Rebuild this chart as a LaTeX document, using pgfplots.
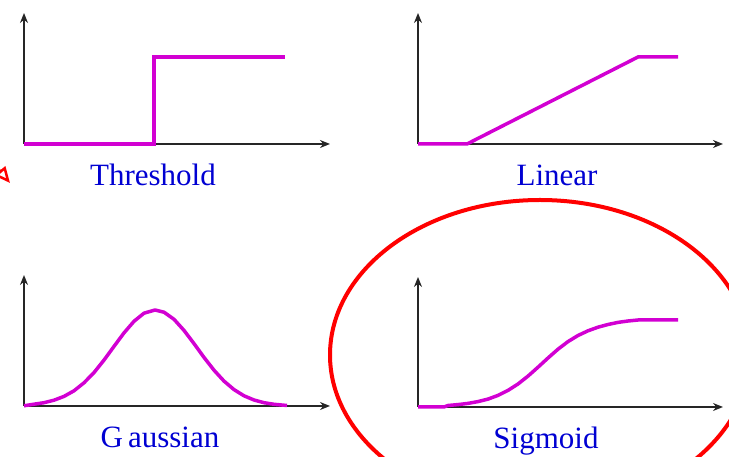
\documentclass[border=0pt]{standalone}
\usepackage{pgfplots}
\pgfplotsset{compat=1.18}
\usetikzlibrary{arrows.meta}
\usepackage{fontspec}
\setmainfont{Liberation Serif}
\definecolor{mag}{RGB}{210,0,210}
\definecolor{lblue}{RGB}{0,0,210}
\tikzset{
  lbl/.style={lblue, anchor=base, font=\fontsize{31}{36}\selectfont},
}
\pgfplotsset{
  panel/.style={
    x=1pt, y=1pt, xmin=0, ymin=0, xmax=306, ymax=131,
    anchor=south west, scale only axis,
    axis lines=left, enlargelimits=false, clip=false,
    xtick=\empty, ytick=\empty,
    axis line style={line width=1.8pt, black!85},
    every outer x axis line/.append style={-{Stealth[length=10pt,width=8pt]}},
    every outer y axis line/.append style={-{Stealth[length=10pt,width=8pt]}},
  },
  curve/.style={mag, line width=3.5pt, line join=miter, no marks},
}
\begin{document}
\begin{tikzpicture}[x=1pt,y=1pt]
\path[use as bounding box] (0,0) rectangle (729,457);
\clip (0,0) rectangle (729,457);
% Threshold
\begin{axis}[panel, at={(24pt,313pt)}]
\addplot[curve] coordinates {(0,0)(130,0)(130,87)(261,87)};
\node[lbl] at (axis cs:129,-42) {Threshold};
\end{axis}
% Linear
\begin{axis}[panel, at={(418pt,313pt)}, xmax=305]
\addplot[curve] coordinates {(0,0)(49,0)(220,87)(260,87)};
\node[lbl] at (axis cs:139,-42) {Linear};
\end{axis}
% Gaussian
\begin{axis}[panel, at={(24pt,51pt)}]
\addplot[curve, line join=round] coordinates {(0,0.2)(10,1.8)(20,3.3)(30,5.8)(40,9.6)(50,15.2)(60,23.2)(70,33.4)(80,45.9)(90,59.6)(100,73.1)(110,84.7)(120,92.8)(131,96)(140,93.8)(150,86.7)(160,75.6)(170,62.4)(180,48.6)(190,35.8)(200,24.9)(210,16.4)(220,10.2)(230,6.0)(240,3.3)(250,1.7)(263,0.5)};
\node[lbl] at (axis cs:136,-42) {G\hspace{5pt}aussian};
\end{axis}
% Sigmoid
\begin{axis}[panel, at={(418pt,50pt)}, xmax=305, ymax=130]
\addplot[curve, line join=round] coordinates {(0,0)(26,0)(30,1.5)(40,2.4)(50,3.6)(60,5.4)(70,7.9)(80,11.6)(90,16.6)(100,23)(110,30.9)(120,39.8)(130,49)(140,57.8)(150,65.4)(160,71.5)(170,76.2)(180,79.8)(190,82.5)(200,84.6)(210,86)(220,87)(260,87)};
\node[lbl] at (axis cs:128,-42) {Sigmoid};
\end{axis}
% annotations
\draw[red, line width=4pt] (540,102) ellipse [x radius=210, y radius=155];
\draw[red, line width=2.5pt, -{Triangle[open, length=16pt, width=14pt]}] (-30,322) -- (10,274);
\end{tikzpicture}
\end{document}
